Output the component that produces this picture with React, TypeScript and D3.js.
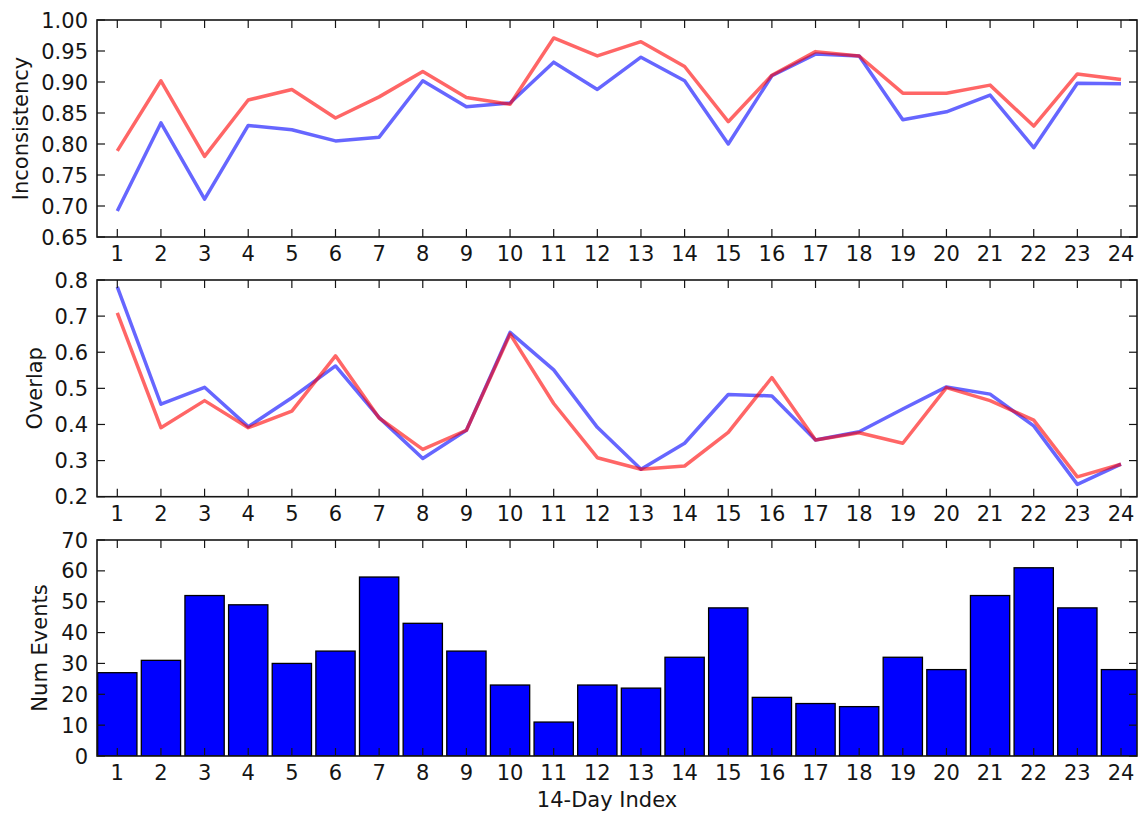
import React from 'react';
import * as d3 from 'd3';

// 14-day windows
const days = d3.range(1, 25);

// Inconsistency (top panel)
const inconsistencyBlue = [0.692, 0.834, 0.711, 0.830, 0.823, 0.805, 0.811, 0.902, 0.860, 0.866, 0.932, 0.888, 0.940, 0.902, 0.800, 0.910, 0.945, 0.942, 0.839, 0.852, 0.879, 0.794, 0.898, 0.897];
const inconsistencyRed = [0.789, 0.902, 0.780, 0.871, 0.888, 0.842, 0.876, 0.917, 0.875, 0.864, 0.971, 0.942, 0.965, 0.925, 0.836, 0.911, 0.949, 0.942, 0.882, 0.882, 0.895, 0.829, 0.913, 0.904];
const inconsistencyTicks = [0.65, 0.7, 0.75, 0.8, 0.85, 0.9, 0.95, 1.0];

// Overlap (middle panel)
const overlapBlue = [0.781, 0.456, 0.503, 0.394, 0.474, 0.562, 0.419, 0.306, 0.384, 0.655, 0.551, 0.392, 0.276, 0.348, 0.483, 0.479, 0.357, 0.380, 0.443, 0.504, 0.484, 0.396, 0.234, 0.290];
const overlapRed = [0.709, 0.391, 0.466, 0.391, 0.437, 0.590, 0.418, 0.331, 0.384, 0.650, 0.458, 0.308, 0.276, 0.285, 0.378, 0.530, 0.357, 0.377, 0.348, 0.502, 0.466, 0.412, 0.255, 0.290];
const overlapTicks = [0.2, 0.3, 0.4, 0.5, 0.6, 0.7, 0.8];

// Num events (bottom panel)
const numEvents = [27, 31, 52, 49, 30, 34, 58, 43, 34, 23, 11, 23, 22, 32, 48, 19, 17, 16, 32, 28, 52, 61, 48, 28];
const eventTicks = [0, 10, 20, 30, 40, 50, 60, 70];

const W = 1138;
const H = 813;
const left = 97;
const right = 1137;
const font = 'DejaVu Sans, sans-serif';
const fontSize = 21;
const ink = '#151515';
const tickLen = 8;

const x = d3.scaleLinear().domain([1, 24]).range([117.3, 1121]);
const step = x(2) - x(1);

type Panel = {
  top: number;
  bottom: number;
  domain: [number, number];
  ticks: number[];
  fmt: (v: number) => string;
  label: string;
  labelX: number;
};

function Frame({ p, y }: { p: Panel; y: d3.ScaleLinear<number, number> }) {
  return (
    <g>
      <rect x={left} y={p.top} width={right - left} height={p.bottom - p.top} fill="none" stroke={ink} strokeWidth={1.6} />
      {days.map(d => (
        <g key={'xt' + d}>
          <line x1={x(d)} x2={x(d)} y1={p.bottom} y2={p.bottom - tickLen} stroke={ink} strokeWidth={1.2} />
          <line x1={x(d)} x2={x(d)} y1={p.top} y2={p.top + tickLen} stroke={ink} strokeWidth={1.2} />
          <text x={x(d)} y={p.bottom + 24} textAnchor="middle" fontFamily={font} fontSize={fontSize} fill={ink}>{d}</text>
        </g>
      ))}
      {p.ticks.map(t => (
        <g key={'yt' + t}>
          <line x1={left} x2={left + tickLen} y1={y(t)} y2={y(t)} stroke={ink} strokeWidth={1.2} />
          <line x1={right} x2={right - tickLen} y1={y(t)} y2={y(t)} stroke={ink} strokeWidth={1.2} />
          <text x={88} y={y(t)} dy="0.36em" textAnchor="end" fontFamily={font} fontSize={fontSize} fill={ink}>{p.fmt(t)}</text>
        </g>
      ))}
      <text
        transform={`translate(${p.labelX},${(p.top + p.bottom) / 2}) rotate(-90)`}
        textAnchor="middle"
        dy="0.36em"
        fontFamily={font}
        fontSize={fontSize}
        fill={ink}
      >
        {p.label}
      </text>
    </g>
  );
}

function LinePanel({ p, blue, red }: { p: Panel; blue: number[]; red: number[] }) {
  const y = d3.scaleLinear().domain(p.domain).range([p.bottom, p.top]);
  const line = d3.line<number>().x((_, i) => x(days[i])).y(v => y(v));
  return (
    <g>
      <path d={line(blue) || ''} fill="none" stroke="#0000ff" strokeOpacity={0.6} strokeWidth={3.5} strokeLinejoin="round" />
      <path d={line(red) || ''} fill="none" stroke="#ff0000" strokeOpacity={0.6} strokeWidth={3.5} strokeLinejoin="round" />
      <Frame p={p} y={y} />
    </g>
  );
}

function BarPanel({ p, values }: { p: Panel; values: number[] }) {
  const y = d3.scaleLinear().domain(p.domain).range([p.bottom, p.top]);
  const bw = step * 0.9;
  return (
    <g>
      <clipPath id="barclip">
        <rect x={left} y={p.top} width={right - left} height={p.bottom - p.top} />
      </clipPath>
      <g clipPath="url(#barclip)">
        {values.map((v, i) => (
          <rect
            key={i}
            x={x(days[i]) - bw / 2}
            y={y(v)}
            width={bw}
            height={y(0) - y(v)}
            fill="#0000ff"
            stroke="#000"
            strokeWidth={1.3}
          />
        ))}
      </g>
      <Frame p={p} y={y} />
      <text x={(left + right) / 2 - 10} y={807} textAnchor="middle" fontFamily={font} fontSize={fontSize} fill={ink}>14-Day Index</text>
    </g>
  );
}

const topPanel: Panel = { top: 20, bottom: 237, domain: [0.65, 1.0], ticks: inconsistencyTicks, fmt: d3.format('.2f'), label: 'Inconsistency', labelX: 20 };
const midPanel: Panel = { top: 280, bottom: 496.7, domain: [0.2, 0.8], ticks: overlapTicks, fmt: d3.format('.1f'), label: 'Overlap', labelX: 34 };
const botPanel: Panel = { top: 540, bottom: 756, domain: [0, 70], ticks: eventTicks, fmt: d3.format('d'), label: 'Num Events', labelX: 39 };

export default function App() {
  return (
    <div style={{ position: 'absolute', left: 0, top: 0, width: W, height: H, background: '#fff' }}>
      <svg width={W} height={H} viewBox={`0 0 ${W} ${H}`} style={{ display: 'block' }}>
        <rect width={W} height={H} fill="#fff" />
        <LinePanel p={topPanel} blue={inconsistencyBlue} red={inconsistencyRed} />
        <LinePanel p={midPanel} blue={overlapBlue} red={overlapRed} />
        <BarPanel p={botPanel} values={numEvents} />
      </svg>
    </div>
  );
}
